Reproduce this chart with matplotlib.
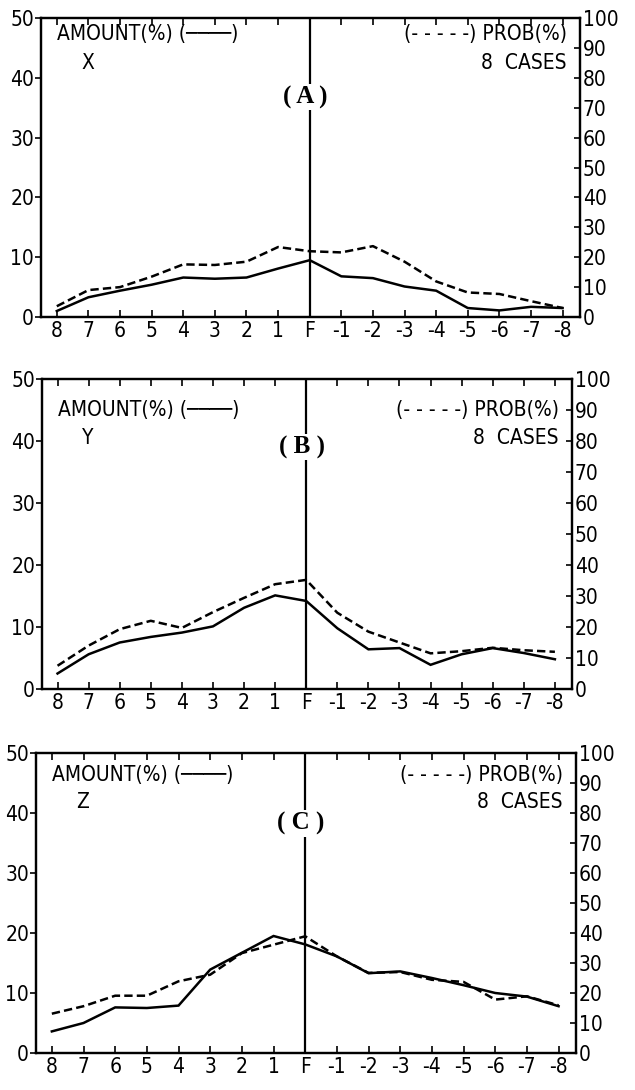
import matplotlib
matplotlib.use("Agg")
import matplotlib.pyplot as plt

plt.rcParams['font.family'] = ['DejaVu Sans']
plt.rcParams['font.stretch'] = 'condensed'
plt.rcParams['lines.scale_dashes'] = False

x_labels = ['8', '7', '6', '5', '4', '3', '2', '1', 'F',
            '-1', '-2', '-3', '-4', '-5', '-6', '-7', '-8']

amount_x = [1.0, 3.3, 4.4, 5.4, 6.6, 6.4, 6.6, 8.1, 9.5, 6.8, 6.5, 5.1, 4.4, 1.5, 1.1, 1.7, 1.5]
prob_x = [3.6, 9.0, 10.0, 13.5, 17.6, 17.4, 18.5, 23.4, 22.0, 21.6, 23.7, 18.5, 11.9, 8.2, 7.7, 5.3, 3.0]

amount_y = [2.5, 5.6, 7.5, 8.4, 9.1, 10.1, 13.1, 15.1, 14.2, 9.8, 6.4, 6.6, 3.9, 5.6, 6.6, 5.8, 4.8]
prob_y = [7.5, 14.0, 19.3, 22.0, 19.7, 24.8, 29.4, 33.8, 35.2, 24.6, 18.5, 15.0, 11.5, 12.2, 13.3, 12.5, 12.0]

amount_z = [3.6, 5.0, 7.6, 7.5, 7.9, 13.9, 16.7, 19.5, 18.1, 16.1, 13.3, 13.6, 12.5, 11.3, 10.0, 9.4, 7.8]
prob_z = [13.1, 15.6, 19.1, 19.1, 23.9, 26.1, 33.3, 36.1, 38.9, 32.2, 26.7, 27.0, 24.4, 23.7, 17.8, 18.9, 15.9]

panels = [
    dict(name='X', tag='( A )', amount=amount_x, prob=prob_x,
         rect=[41/635, 1-317/1090, 539/635, 299/1090],
         amt_y=0.945, sub_y=0.85, tag_y=0.735),
    dict(name='Y', tag='( B )', amount=amount_y, prob=prob_y,
         rect=[42/635, 1-689/1090, 530/635, 310/1090],
         amt_y=0.90, sub_y=0.81, tag_y=0.78),
    dict(name='Z', tag='( C )', amount=amount_z, prob=prob_z,
         rect=[36/635, 1-1053/1090, 540/635, 300/1090],
         amt_y=0.925, sub_y=0.835, tag_y=0.765),
]

fig = plt.figure(figsize=(6.35, 10.9), dpi=100)
xs = list(range(len(x_labels)))
fidx = x_labels.index('F')

for p in panels:
    ax = fig.add_axes(p['rect'])
    ax2 = ax.twinx()
    ax.plot(xs, p['amount'], color='black', lw=1.8, solid_joinstyle='miter')
    ax2.plot(xs, p['prob'], color='black', lw=1.8, dashes=(6, 3))
    ax.axvline(fidx, color='black', lw=1.6, zorder=1)
    ax.set_xlim(-0.5, 16.55)
    ax.set_ylim(0, 50)
    ax2.set_ylim(0, 100)
    ax.set_xticks(xs)
    ax.set_xticklabels(x_labels, fontsize=15)
    ax.set_yticks(range(0, 51, 10))
    ax.tick_params(axis='y', direction='out', length=4, width=1.2, labelsize=15, pad=1)
    ax.tick_params(axis='x', direction='in', length=5, width=1.2, top=True, pad=3)
    ax2.set_yticks(range(0, 101, 10))
    ax2.tick_params(axis='y', direction='in', length=4, width=1.2, labelsize=15, pad=2)
    for sp in list(ax.spines.values()) + list(ax2.spines.values()):
        sp.set_linewidth(1.6)
    ax.text(0.03, p['amt_y'], 'AMOUNT(%) (────)', transform=ax.transAxes,
            fontsize=15, va='center', ha='left')
    ax.text(0.075, p['sub_y'], p['name'], transform=ax.transAxes,
            fontsize=15, va='center', ha='left')
    ax.text(0.975, p['amt_y'], '(- - - - -) PROB(%)', transform=ax.transAxes,
            fontsize=15, va='center', ha='right')
    ax.text(0.975, p['sub_y'], '8  CASES', transform=ax.transAxes,
            fontsize=15, va='center', ha='right')
    ax.text(0.49, p['tag_y'], p['tag'], transform=ax.transAxes,
            fontsize=18, va='center', ha='center', family='Liberation Serif',
            fontweight='bold', fontstretch='normal',
            bbox=dict(facecolor='white', edgecolor='none', pad=1), zorder=5)

fig.savefig('out.png', dpi=100)
